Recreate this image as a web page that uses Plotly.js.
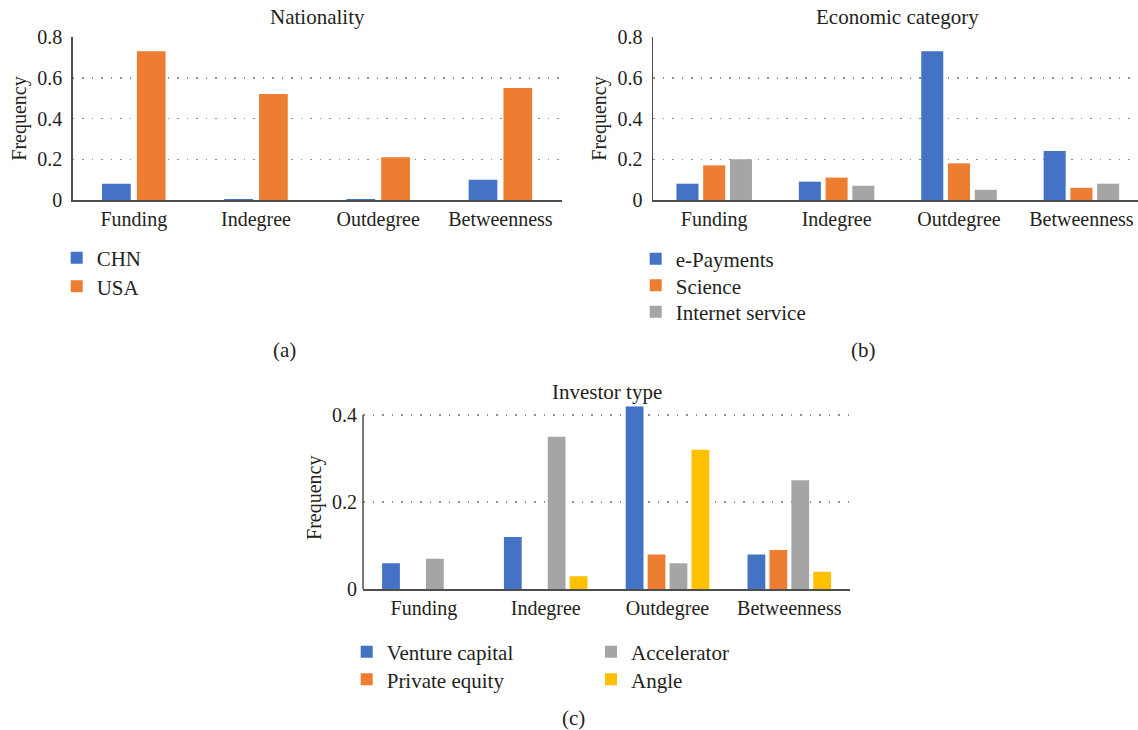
<!DOCTYPE html>
<html>
<head>
<meta charset="utf-8">
<script src="https://cdn.plot.ly/plotly-3.0.1.min.js"></script>
<style>html,body{margin:0;padding:0;background:#fff;}#chart{width:1138px;height:730px;}</style>
</head>
<body>
<div id="chart"></div>
<script>
const categories = ['Funding', 'Indegree', 'Outdegree', 'Betweenness'];

const nationalityCHN = [0.08, 0.005, 0.005, 0.10];
const nationalityUSA = [0.73, 0.52, 0.21, 0.55];

const econEPayments = [0.08, 0.09, 0.73, 0.24];
const econScience = [0.17, 0.11, 0.18, 0.06];
const econInternet = [0.20, 0.07, 0.05, 0.08];

const invVentureCapital = [0.06, 0.12, 0.42, 0.08];
const invPrivateEquity = [0, 0, 0.08, 0.09];
const invAccelerator = [0.07, 0.35, 0.06, 0.25];
const invAngle = [0, 0.03, 0.32, 0.04];

const BLUE = '#4472C4', ORANGE = '#ED7D31', GRAY = '#A5A5A5', YELLOW = '#FFC000';
const FONT = 'Liberation Serif, Times New Roman, serif';
const TXT = '#231f20';
const W = 1138, H = 730;

function bar(name, y, color, xa, ya, legend, idx, n, slot, width) {
  const center = (idx - (n - 1) / 2) * slot;
  return {
    type: 'bar', name: name, x: categories, y: y,
    xaxis: xa, yaxis: ya, legend: legend,
    marker: {color: color, line: {width: 0}},
    width: width, offset: center - width / 2,
    hoverinfo: 'skip'
  };
}

const data = [
  bar('CHN', nationalityCHN, BLUE, 'x', 'y', 'legend', 0, 2, 0.285, 0.235),
  bar('USA', nationalityUSA, ORANGE, 'x', 'y', 'legend2', 1, 2, 0.285, 0.235),
  bar('e-Payments', econEPayments, BLUE, 'x2', 'y2', 'legend3', 0, 3, 0.2185, 0.18),
  bar('Science', econScience, ORANGE, 'x2', 'y2', 'legend4', 1, 3, 0.2185, 0.18),
  bar('Internet service', econInternet, GRAY, 'x2', 'y2', 'legend5', 2, 3, 0.2185, 0.18),
  bar('Venture capital', invVentureCapital, BLUE, 'x3', 'y3', 'legend6', 0, 4, 0.18, 0.146),
  bar('Private equity', invPrivateEquity, ORANGE, 'x3', 'y3', 'legend7', 1, 4, 0.18, 0.146),
  bar('Accelerator', invAccelerator, GRAY, 'x3', 'y3', 'legend8', 2, 4, 0.18, 0.146),
  bar('Angle', invAngle, YELLOW, 'x3', 'y3', 'legend9', 3, 4, 0.18, 0.146)
];

function px(x0, x1) { return [x0 / W, Math.min(1, x1 / W)]; }
function py(top, bottom) { return [1 - bottom / H, 1 - top / H]; }

function xAxis(domain, anchor, range) {
  return {
    domain: domain, anchor: anchor, type: 'category', categoryorder: 'array', categoryarray: categories,
    range: range,
    showline: true, linecolor: '#4d4d4d', linewidth: 1.5, ticks: '', showgrid: false,
    zeroline: false, fixedrange: true, ticklabelstandoff: 0,
    tickfont: {family: FONT, size: 20, color: TXT}
  };
}
function yAxis(domain, anchor, range, showline) {
  return {
    domain: domain, anchor: anchor, range: range, dtick: 0.2, tick0: 0,
    showline: showline, linecolor: '#4d4d4d', linewidth: 1.5, ticks: '',
    showgrid: true, gridcolor: '#8f8f8f', gridwidth: 1.5, griddash: '1.5px,8px',
    zeroline: false, fixedrange: true, ticklabelstandoff: 5,
    tickfont: {family: FONT, size: 20, color: TXT},
    title: {text: 'Frequency', font: {family: FONT, size: 20, color: TXT}, standoff: 5}
  };
}

function legendAt(xLeft, rowCenter) {
  return {
    x: xLeft / W, y: 1 - (rowCenter - 21.5) / H, xanchor: 'left', yanchor: 'top',
    orientation: 'v', bgcolor: 'rgba(0,0,0,0)', borderwidth: 0,
    font: {family: FONT, size: 21, color: TXT}
  };
}

function ann(text, xPx, yPx, size) {
  return {text: text, xref: 'paper', yref: 'paper', x: xPx / W, y: 1 - yPx / H,
    xanchor: 'center', yanchor: 'middle', showarrow: false,
    font: {family: FONT, size: size, color: TXT}};
}

const layout = {
  width: W, height: H,
  margin: {l: 0, r: 0, t: 0, b: 0},
  paper_bgcolor: '#fff', plot_bgcolor: 'rgba(0,0,0,0)',
  barmode: 'group',
  showlegend: true,
  xaxis: xAxis(px(72.7, 561.5), 'y', [-0.5, 3.5]),
  yaxis: yAxis(py(37, 200), 'x', [0, 0.8], true),
  xaxis2: xAxis(px(653, 1138), 'y2', [-0.5, 3.5 - 4.6 / 122.4]),
  yaxis2: yAxis(py(37, 200), 'x2', [0, 0.8], true),
  xaxis3: xAxis(px(363, 850.2), 'y3', [-0.5, 3.5]),
  yaxis3: yAxis(py(406.2, 589.3), 'x3', [0, 0.42], false),
  legend: legendAt(56.7, 259),
  legend2: legendAt(56.7, 287.7),
  legend3: legendAt(635.7, 260),
  legend4: legendAt(635.7, 286.7),
  legend5: legendAt(635.7, 313),
  legend6: legendAt(346.7, 653),
  legend7: legendAt(346.7, 680.7),
  legend8: legendAt(591, 653),
  legend9: legendAt(591, 680.7),
  shapes: [
    {type: 'line', xref: 'x3 domain', yref: 'y3', x0: 0, x1: 0, y0: 0, y1: 0.4,
     line: {color: '#4d4d4d', width: 1.5}}
  ],
  annotations: [
    ann('Nationality', 317, 17, 21),
    ann('Economic category', 897.7, 17, 21),
    ann('Investor type', 606.5, 392, 21),
    ann('(a)', 284, 350, 21),
    ann('(b)', 863, 350, 21),
    ann('(c)', 573, 718, 21)
  ]
};

Plotly.newPlot('chart', data, layout, {displayModeBar: false, staticPlot: true});
</script>
</body>
</html>
